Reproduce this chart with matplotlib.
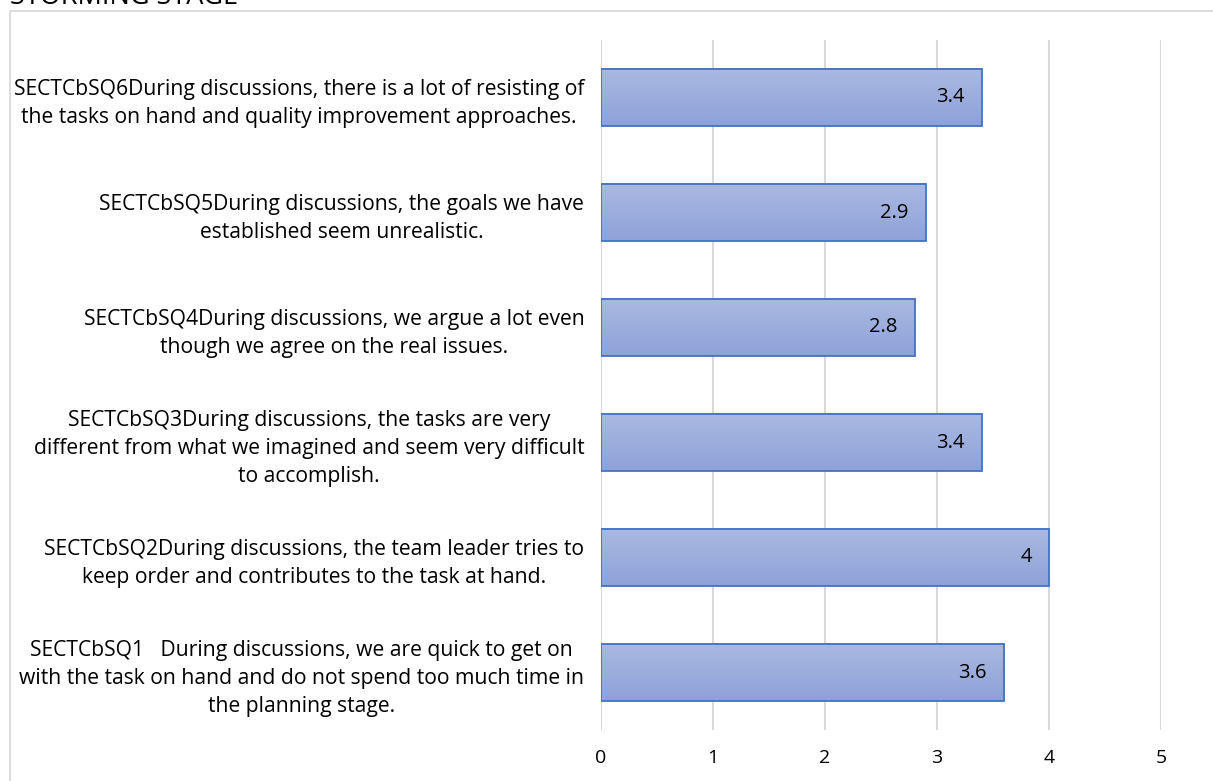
import numpy as np
import matplotlib
matplotlib.use("Agg")
import matplotlib.pyplot as plt
from matplotlib.patches import Rectangle
from matplotlib.colors import LinearSegmentedColormap

plt.rcParams['font.family'] = ['Open Sans', 'DejaVu Sans']

# Survey items (bottom to top) and their mean scores
categories = [
    "SECTCbSQ1   During discussions, we are quick to get on\nwith the task on hand and do not spend too much time in\nthe planning stage.",
    "SECTCbSQ2During discussions, the team leader tries to\nkeep order and contributes to the task at hand.",
    "SECTCbSQ3During discussions, the tasks are very\ndifferent from what we imagined and seem very difficult\nto accomplish.",
    "SECTCbSQ4During discussions, we argue a lot even\nthough we agree on the real issues.",
    "SECTCbSQ5During discussions, the goals we have\nestablished seem unrealistic.",
    "SECTCbSQ6During discussions, there is a lot of resisting of\nthe tasks on hand and quality improvement approaches.",
]
values = [3.6, 4, 3.4, 2.8, 2.9, 3.4]
value_labels = ["3.6", "4", "3.4", "2.8", "2.9", "3.4"]
x_ticks = [0, 1, 2, 3, 4, 5]
title = "STORMING STAGE"

W, H = 1213, 781
fig = plt.figure(figsize=(W / 100, H / 100), dpi=100)

# chart frame
fig.patches.append(Rectangle((10 / W, -0.1), 1.2, 1 - 11 / H + 0.1,
                             transform=fig.transFigure, fill=False,
                             edgecolor='#D9D9D9', linewidth=1.3, zorder=0))
fig.text(10 / W, 1 - 4 / H, title, fontsize=19.5, color='#000000',
         ha='left', va='baseline')

ax = fig.add_axes([601 / W, 1 - 730 / H, 560 / W, 690 / H])
ax.set_xlim(0, 5)
ax.set_ylim(-0.5, len(categories) - 0.5)
ax.set_xticks(x_ticks)
ax.set_xticklabels([str(t) for t in x_ticks], fontsize=14, color='#000000')
ax.tick_params(axis='x', length=0, pad=14)
ax.tick_params(axis='y', length=0, pad=12)
ax.set_yticks(range(len(categories)))
ax.set_yticklabels(categories, fontsize=15.2, color='#000000',
                   linespacing=1.45, multialignment='center')
for s in ax.spines.values():
    s.set_visible(False)
ax.grid(axis='x', color='#D9D9D9', linewidth=1.5, zorder=0)
ax.set_axisbelow(True)

cmap = LinearSegmentedColormap.from_list('bar', ['#8EA2D9', '#ABB9E1'])
grad = np.linspace(0, 1, 256).reshape(-1, 1)
bh = 0.5
bars = ax.barh(range(len(values)), values, height=bh, color='none',
               edgecolor='#4472C4', linewidth=1.3, zorder=3)
for i, (b, v) in enumerate(zip(bars, values)):
    ax.imshow(grad, cmap=cmap, aspect='auto', origin='lower',
              extent=[0, v, i - bh / 2, i + bh / 2], zorder=2)
    ax.annotate(value_labels[i], xy=(v, i), xytext=(-12.5, 0),
                textcoords='offset points', ha='right', va='center',
                fontsize=14.5, color='#000000', zorder=4)
ax.set_xlim(0, 5)
ax.set_ylim(-0.5, len(categories) - 0.5)

fig.savefig('out.png', dpi=100)
